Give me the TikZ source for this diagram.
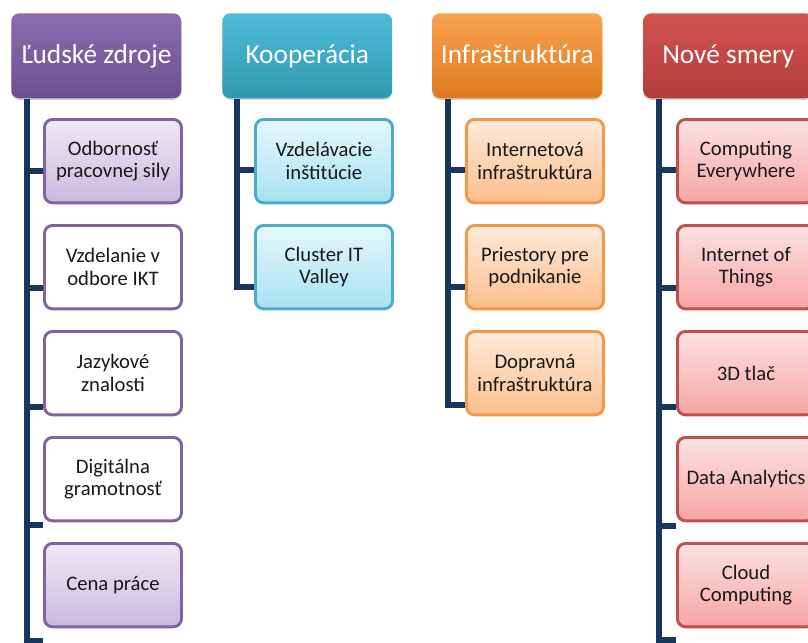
\documentclass[tikz,border=0pt]{standalone}
\usepackage{fontspec}
\setmainfont{Carlito}
\usetikzlibrary{shadows}

\definecolor{fialova}{HTML}{8064A2}
\definecolor{fialovaH}{HTML}{8B6DAF}
\definecolor{fialovaD}{HTML}{6C508E}
\definecolor{levS}{HTML}{EEE9F5}
\definecolor{levT}{HTML}{C9BADE}
\definecolor{tyrkys}{HTML}{4BACC6}
\definecolor{tyrkysH}{HTML}{50BCD7}
\definecolor{tyrkysD}{HTML}{2F98B3}
\definecolor{modS}{HTML}{E4F7FC}
\definecolor{modT}{HTML}{A8E2F3}
\definecolor{oranz}{HTML}{F79646}
\definecolor{oranzH}{HTML}{F9A24F}
\definecolor{oranzD}{HTML}{E07A1F}
\definecolor{brosS}{HTML}{FDEADB}
\definecolor{brosT}{HTML}{FBBF8C}
\definecolor{cerv}{HTML}{C0504D}
\definecolor{cervH}{HTML}{D3544F}
\definecolor{cervD}{HTML}{B23D3A}
\definecolor{ruzS}{HTML}{FCE2E2}
\definecolor{ruzT}{HTML}{F6A5A3}
\definecolor{lista}{HTML}{17375E}

\tikzset{
  hlava/.style={anchor=north west, rounded corners=6pt, inner sep=0pt,
    minimum width=127.5pt, minimum height=63.75pt, text=white,
    text height=15pt, text depth=4pt,
    font=\fontsize{20.5}{23}\selectfont,
    drop shadow={opacity=.35, shadow xshift=0pt, shadow yshift=-1.2pt}},
  dieta/.style={anchor=north west, rounded corners=6pt, inner sep=0pt,
    draw=#1, line width=2.2pt, minimum width=102.75pt, minimum height=62.5pt,
    align=center, text=black!90, font=\fontsize{15.5}{17}\selectfont},
  spoj/.style={draw=lista, line width=4.5pt}
}

\begin{document}
\begin{tikzpicture}[x=0.75pt, y=-0.75pt]
  \useasboundingbox (0,0) rectangle (808,643);
  \clip (0,0) rectangle (808,643);

  % hlavicky
  \node[hlava, top color=fialovaH, bottom color=fialovaD] (lhead) at (11,13) {Ľudské zdroje};
  \node[hlava, top color=tyrkysH, bottom color=tyrkysD] (khead) at (222,13) {Kooperácia};
  \node[hlava, top color=oranzH, bottom color=oranzD] (ihead) at (432,13) {Infraštruktúra};
  \node[hlava, top color=cervH, bottom color=cervD] (shead) at (643,13) {Nové smery};

  % Ludske zdroje
  \foreach \t/\c/\f/\g [count=\i] in {{Odbornosť\\pracovnej sily}/171/levS/levT,
      {Vzdelanie v\\odbore IKT}/288/white/white, {Jazykové\\znalosti}/407/white/white,
      {Digitálna\\gramotnosť}/525/white/white, {Cena práce}/641/levS/levT}
  {
    \node[dieta=fialova, top color=\f, bottom color=\g] (l\i) at (43,12+106*\i) {\t};
    \coordinate (lc\i) at (27,\c);
    \draw[spoj] (lc\i) -- (lc\i -| l\i.west);
  }
  \coordinate (lbot) at (27,660);
  \draw[spoj] (lhead.south -| lbot) -- (lbot);

  % Kooperacia
  \foreach \t/\c [count=\i] in {{Vzdelávacie\\inštitúcie}/170, {Cluster IT\\Valley}/287}
  {
    \node[dieta=tyrkys, top color=modS, bottom color=modT] (k\i) at (254,12+106*\i) {\t};
    \coordinate (kc\i) at (237,\c);
    \draw[spoj] (kc\i) -- (kc\i -| k\i.west);
  }
  \draw[spoj] (khead.south -| kc2) -- (kc2) -- (kc2 -| k2.west);

  % Infrastruktura
  \foreach \t/\c [count=\i] in {{Internetová\\infraštruktúra}/170,
      {Priestory pre\\podnikanie}/287, {Dopravná\\infraštruktúra}/405}
  {
    \node[dieta=oranz, top color=brosS, bottom color=brosT] (i\i) at (465,12+106*\i) {\t};
    \coordinate (ic\i) at (448,\c);
    \draw[spoj] (ic\i) -- (ic\i -| i\i.west);
  }
  \draw[spoj] (ihead.south -| ic3) -- (ic3) -- (ic3 -| i3.west);

  % Nove smery
  \foreach \t/\c [count=\i] in {{Computing\\Everywhere}/170, {Internet of\\Things}/288,
      {3D tlač}/407, {Data Analytics}/526, {Cloud\\Computing}/640}
  {
    \node[dieta=cerv, top color=ruzS, bottom color=ruzT] (s\i) at (676,12+106*\i) {\t};
    \coordinate (sc\i) at (659,\c);
    \draw[spoj] (sc\i) -- (sc\i -| s\i.west);
  }
  \coordinate (sbot) at (659,660);
  \draw[spoj] (shead.south -| sbot) -- (sbot);
\end{tikzpicture}
\end{document}
